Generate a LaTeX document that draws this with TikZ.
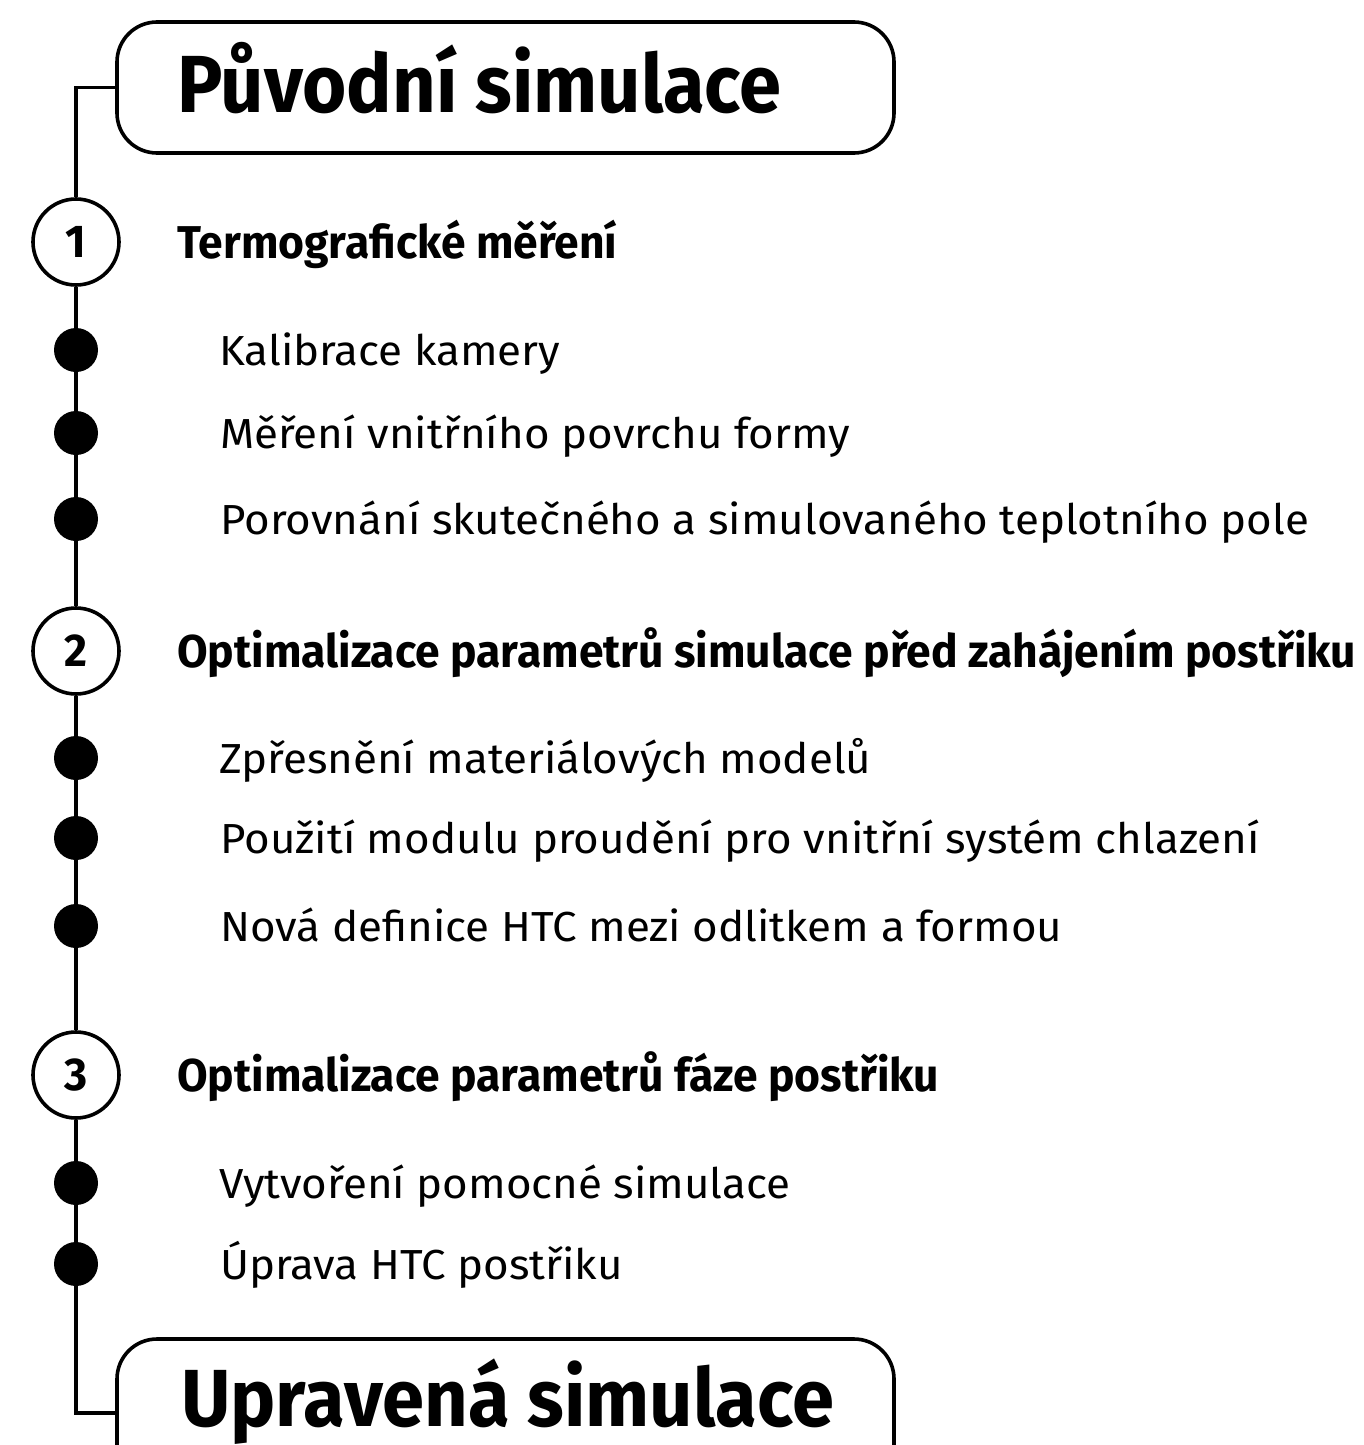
\documentclass[tikz,border=0pt]{standalone}
\usepackage{fontspec}
\setmainfont{Fira Sans}
\newfontfamily\titlefont{Fira Sans}[FakeStretch=0.937]
\newfontfamily\headfont{Fira Sans}[FakeStretch=0.965]
\newfontfamily\itemfont{Fira Sans}[FakeStretch=1.045]
\begin{document}
\begin{tikzpicture}[x=1pt,y=-1pt,
  line/.style={line width=3.6pt},
  bigbox/.style={draw,line width=3.6pt,rounded corners=40pt,minimum width=777pt,inner sep=0pt},
  numcirc/.style={draw,circle,fill=white,line width=3.6pt,minimum size=86pt,inner sep=0pt,font=\headfont\bfseries\fontsize{46}{50}\selectfont},
  dotnode/.style={circle,fill=black,minimum size=44pt,inner sep=0pt},
  titletext/.style={anchor=base west,inner sep=0pt,font=\titlefont\bfseries\fontsize{81}{90}\selectfont},
  headtext/.style={anchor=base west,inner sep=0pt,font=\headfont\bfseries\fontsize{46}{50}\selectfont},
  itemtext/.style={anchor=base west,inner sep=0pt,font=\itemfont\fontsize{42}{48}\selectfont}]
\useasboundingbox[fill=white] (0,0) rectangle (1363,1445);

% boxes
\node[bigbox,minimum height=131pt] (top) at (505.5,87.5) {};
\node[bigbox,minimum height=148pt] (bot) at (505.5,1413) {};
\node[titletext] (toptext) at (177,112) {Původní simulace};
\node[titletext] (bottext) at (181,1426) {Upravená simulace};

% numbered circles
\node[numcirc] (c1) at (76,242) {1};
\node[numcirc] (c2) at (76,651) {2};
\node[numcirc] (c3) at (76,1075) {3};

% dots
\node[dotnode] (d1) at (76,350) {};
\node[dotnode] (d2) at (76,433) {};
\node[dotnode] (d3) at (76,519) {};
\node[dotnode] (d4) at (76,758) {};
\node[dotnode] (d5) at (76,838) {};
\node[dotnode] (d6) at (76,926) {};
\node[dotnode] (d7) at (76,1183) {};
\node[dotnode] (d8) at (76,1264) {};

% connectors
\draw[line] (top.west) -| (c1.north);
\draw[line] (c1.south) -- (d1) -- (d2) -- (d3) -- (c2.north);
\draw[line] (c2.south) -- (d4) -- (d5) -- (d6) -- (c3.north);
\draw[line] (c3.south) -- (d7) -- (d8) |- (bot.west);

% headings
\node[headtext] (h1) at (177,258) {Termografické měření};
\node[headtext] (h2) at (177,667) {Optimalizace parametrů simulace před zahájením postřiku};
\node[headtext] (h3) at (177,1091) {Optimalizace parametrů fáze postřiku};

% items
\node[itemtext] (i1) at (219,365) {Kalibrace kamery};
\node[itemtext] (i2) at (220,448) {Měření vnitřního povrchu formy};
\node[itemtext] (i3) at (220,534) {Porovnání skutečného a simulovaného teplotního pole};
\node[itemtext] (i4) at (219,773) {Zpřesnění materiálových modelů};
\node[itemtext] (i5) at (220,853) {Použití modulu proudění pro vnitřní systém chlazení};
\node[itemtext] (i6) at (220,941) {Nová definice HTC mezi odlitkem a formou};
\node[itemtext] (i7) at (219,1198) {Vytvoření pomocné simulace};
\node[itemtext] (i8) at (220,1279) {Úprava HTC postřiku};
\end{tikzpicture}
\end{document}
